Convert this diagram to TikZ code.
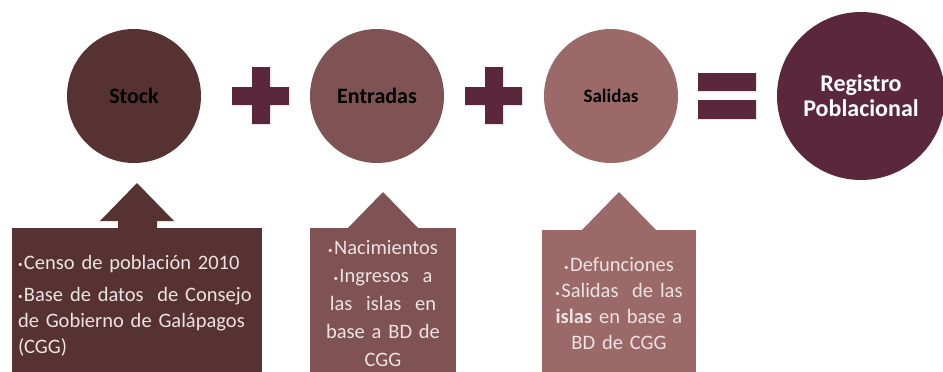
\documentclass[tikz,border=0pt]{standalone}
\usepackage{fontspec}
\setmainfont{Carlito}
\usetikzlibrary{positioning}
\definecolor{cStock}{HTML}{573232}
\definecolor{cEntr}{HTML}{7F5254}
\definecolor{cSal}{HTML}{9C6969}
\definecolor{cReg}{HTML}{5B283B}
\definecolor{cTxt}{HTML}{EDE3E3}
\newcommand\vin{{\fontsize{9}{9}\selectfont\raisebox{.45ex}{\textbullet}}\kern1.5pt}

\begin{document}
\begin{tikzpicture}[x=1pt,y=-1pt,
  bola/.style={circle, minimum size=134pt, inner sep=0pt, align=center,
    font=\bfseries\fontsize{22}{25}\selectfont},
  caja/.style={rectangle, inner ysep=0pt, text=cTxt,
    font=\fontsize{20.5}{26}\selectfont}]
 \useasboundingbox (0,0) rectangle (943,372);
 % circles
 \node[bola, fill=cStock] (stock) at (134,96) {Stock};
 \node[bola, fill=cEntr] (entradas) at (377,96) {Entradas};
 \node[bola, fill=cSal, font=\bfseries\fontsize{19}{22}\selectfont] (salidas) at (611,96) {Salidas};
 \node[bola, fill=cReg, minimum size=168pt, text=white,
   font=\bfseries\fontsize{24}{25}\selectfont] (registro) at (861,96) {Registro\\Poblacional};
 % plus and equals
 \fill[cReg] (232,87) rectangle (289,105) (252,67) rectangle (270,124);
 \fill[cReg] (465,87) rectangle (522,105) (485,67) rectangle (503,124);
 \fill[cReg] (698,73) rectangle (756,91) (698,100) rectangle (756,119);
 % boxes
 \node[caja, fill=cStock, minimum height=156pt, inner xsep=6pt, text width=238pt, align=left] (cajaS) at (137,306)
   {\vin Censo de población 2010\\[6pt]
    \vin Base de datos\ \ de Consejo\\ de\ Gobierno de Galápagos\\ (CGG)};
 \node[caja, fill=cEntr, minimum height=152pt, inner xsep=3pt, text width=140pt, align=center,
   font=\fontsize{20.5}{28}\selectfont] (cajaE) at (383,304)
   {\vin Nacimientos\\ \vin Ingresos\ \ a\\ las\ \ islas\ \ en\\ base a BD de\\ CGG};
 \node[caja, fill=cSal, minimum height=148pt, inner xsep=3pt, text width=148pt, align=center] (cajaD) at (619,304)
   {\vin Defunciones\\ \vin Salidas\ \ de\ las\\ \textbf{islas} en base a\\ BD de CGG};
 % arrows
 \fill[cStock] (118,229) -- (118,221) -- (100,221) -- (137,183) -- (174,221)
   -- (157,221) -- (157,229) -- cycle;
 \fill[cEntr] (347,229) -- (383,192) -- (419,229) -- cycle;
 \fill[cSal] (581,231) -- (619,192) -- (657,231) -- cycle;
\end{tikzpicture}
\end{document}
